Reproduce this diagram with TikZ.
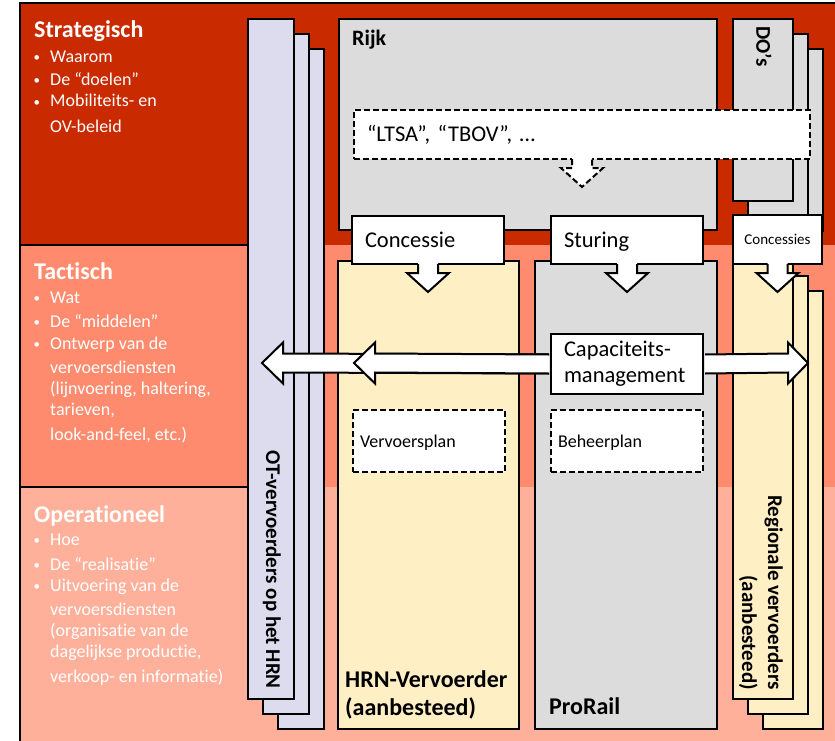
\documentclass[tikz,border=0pt]{standalone}
\usepackage{fontspec}
\setmainfont{Carlito}[Ligatures=NoCommon]
\usepackage{tikz}
\usetikzlibrary{positioning, calc}
\definecolor{strat}{HTML}{C92A00}
\definecolor{tact}{HTML}{FF8B6F}
\definecolor{oper}{HTML}{FFB09B}
\definecolor{lav}{HTML}{DCDCEE}
\definecolor{rijkgray}{HTML}{DCDCDC}
\definecolor{cream}{HTML}{FFEFC5}
\newcommand{\bul}{\llap{\raisebox{1pt}{\fontsize{13}{13}\selectfont\textbullet}\hspace{10pt}}}
\tikzset{
	lvlbox/.style={draw=black, line width=1.5pt},
	col/.style={draw=black, line width=2pt, anchor=north west, inner sep=0pt},
	callbox/.style={draw=black, line width=2pt, fill=white, anchor=north west,
		align=left, inner xsep=13pt, inner ysep=0pt, font=\fontsize{22.5}{26}\selectfont},
	oneline/.style={text height=15pt, text depth=0pt},
	planbox/.style={draw=black, line width=2pt, dash pattern=on 6pt off 3pt,
		fill=white, anchor=north west, align=left, inner xsep=7pt, inner ysep=0pt,
		text height=12pt, text depth=0pt, font=\fontsize{18}{21}\selectfont},
	lvltitle/.style={anchor=base west, text=white, inner sep=0pt,
		font=\fontsize{24}{28}\selectfont\bfseries},
	lvltxt/.style={anchor=base west, text=white, inner sep=0pt,
		font=\fontsize{18}{22}\selectfont},
	boldlbl/.style={inner sep=0pt, font=\fontsize{21}{26}\selectfont\bfseries},
	fatarrow/.style={draw=black, line width=2pt, fill=white, line join=miter},
	pointer/.pic={
		\fill[white] (-10,-2) -- (-10,8) -- (-21,8) -- (0,27) -- (21,8) -- (10,8) -- (10,-2) -- cycle;
		\draw[line join=miter] (-10,-1) -- (-10,8) -- (-21,8) -- (0,27) -- (21,8) -- (10,8) -- (10,-1);
	},
}

\begin{document}
\begin{tikzpicture}[x=1pt, y=-1pt]
	\clip (0,0) rectangle (835,741);
	% lagen
	\fill[strat] (20,3) rectangle (850,245);
	\fill[tact] (20,245) rectangle (850,487);
	\fill[oper] (20,487) rectangle (850,760);
	\draw[lvlbox] (20,3) rectangle (850,760);
	\draw[lvlbox] (20,245) -- (260,245);
	\draw[lvlbox] (20,487) -- (260,487);
	\node[lvltitle] (strat) at (34,38) {Strategisch};
	\foreach \yy/\txt in {63/\bul Waarom, 86/\bul De “doelen”, 107/\bul Mobiliteits- en, 132/OV-beleid}
		\node[lvltxt] (strat-\yy) at (50,\yy) {\txt};
	\node[lvltitle] (tact) at (34,279) {Tactisch};
	\foreach \yy/\txt in {303/\bul Wat, 327/\bul De “middelen”, 349/\bul Ontwerp van de, 373/vervoersdiensten,
		394/{(lijnvoering, haltering,}, 415/{tarieven,}, 440/{look-and-feel, etc.)}}
		\node[lvltxt] (tact-\yy) at (50,\yy) {\txt};
	\node[lvltitle] (oper) at (34,522) {Operationeel};
	\foreach \yy/\txt in {545/\bul Hoe, 570/\bul De “realisatie”, 591/\bul Uitvoering van de, 615/vervoersdiensten,
		636/(organisatie van de, 657/{dagelijkse productie,}, 682/verkoop- en informatie)}
		\node[lvltxt] (oper-\yy) at (50,\yy) {\txt};

	% kolommen
	\foreach \k in {2,1,0}
		\node[col, fill=lav, minimum width=46pt, minimum height=680pt] (ot\k) at ({247+15*\k},{18+15*\k}) {};
	\node[boldlbl, rotate=-90, anchor=base east] (ot-lbl) at (266,689) {OT-vervoerders op het HRN};
	\node[col, fill=rijkgray, minimum width=378pt, minimum height=211pt] (rijk) at (338,18) {};
	\node[boldlbl, anchor=base west, font=\fontsize{22}{26}\selectfont\bfseries] (rijk-lbl) at (352,46) {Rijk};
	\foreach \k in {2,1,0}
		\node[col, fill=rijkgray, minimum width=60pt, minimum height=182pt] (do\k) at ({732+15*\k},{18+15*\k}) {};
	\node[boldlbl, rotate=-90, anchor=west] (do-lbl) at (764,26) {DO’s};
	\node[col, fill=cream, minimum width=181pt, minimum height=468pt] (hrn) at (337,260) {};
	\node[col, fill=rijkgray, minimum width=182pt, minimum height=468pt] (prorail) at (534,260) {};
	\foreach \k in {2,1,0}
		\node[col, fill=cream, minimum width=60pt, minimum height=438pt] (reg\k) at ({732+15*\k},{260+15*\k}) {};
	\node[boldlbl, anchor=south west, align=left, font=\fontsize{24}{28}\selectfont\bfseries] (hrn-lbl)
		at (345,719) {HRN-Vervoerder\\(aanbesteed)};
	\node[boldlbl, anchor=base west, font=\fontsize{24}{28}\selectfont\bfseries] (prorail-lbl) at (549,714) {ProRail};
	\node[boldlbl, rotate=-90, anchor=north east, align=right] (reg-lbl) at (783,690) {Regionale vervoerders\\(aanbesteed)};

	% sturing
	\node[callbox, oneline, line width=2pt, dash pattern=on 6pt off 3pt, minimum width=456pt, minimum height=49pt,
		text width=430pt] (ltsa) at (353,109) {“LTSA”, “TBOV”, …};
	\pic[line width=2pt, dash pattern=on 6pt off 3pt] at (ltsa.south) {pointer};
	\node[callbox, oneline, minimum width=152pt, minimum height=48pt, text width=126pt] (concessie) at (351,215) {Concessie};
	\pic[line width=2pt] at (concessie.south) {pointer};
	\node[callbox, oneline, minimum width=152pt, minimum height=48pt, text width=126pt] (sturing) at (550,215) {Sturing};
	\pic[line width=2pt] at (sturing.south) {pointer};
	\node[callbox, minimum width=89pt, minimum height=49pt, text width=79pt, inner xsep=5pt, align=center,
		text height=10pt, text depth=0pt, font=\fontsize{15}{18}\selectfont] (concessies) at (732,214) {Concessies};
	\pic[line width=2pt] at (concessies.south) {pointer};

	% capaciteitsmanagement
	\node[callbox, minimum width=152pt, minimum height=60pt, text width=126pt] (cap) at (550,333) {Capaciteits-\\management};
	\coordinate (ot-tip) at (262,363);
	\coordinate (hrn-tip) at (354,363);
	\coordinate (reg-tip) at (808,363);
	\draw[fatarrow] ($(cap.west)+(-1,-9.5)$) -- ($(ot-tip)+(21,-9.5)$) -- ($(ot-tip)+(21,-20.5)$) -- (ot-tip)
		-- ($(ot-tip)+(21,20.5)$) -- ($(ot-tip)+(21,9.5)$) -- ($(cap.west)+(-1,9.5)$);
	\draw[fatarrow] ($(cap.west)+(-1,-9.5)$) -- ($(hrn-tip)+(21,-9.5)$) -- ($(hrn-tip)+(21,-20.5)$) -- (hrn-tip)
		-- ($(hrn-tip)+(21,20.5)$) -- ($(hrn-tip)+(21,9.5)$) -- ($(cap.west)+(-1,9.5)$);
	\draw[fatarrow] ($(cap.east)+(1,-9.5)$) -- ($(reg-tip)+(-20,-9.5)$) -- ($(reg-tip)+(-20,-20.5)$) -- (reg-tip)
		-- ($(reg-tip)+(-20,20.5)$) -- ($(reg-tip)+(-20,9.5)$) -- ($(cap.east)+(1,9.5)$);

	% plannen
	\node[planbox, minimum width=152pt, minimum height=62pt, text width=138pt] (vplan) at (352,409) {Vervoersplan};
	\node[planbox, minimum width=152pt, minimum height=62pt, text width=138pt] (bplan) at (550,409) {Beheerplan};
\end{tikzpicture}
\end{document}
